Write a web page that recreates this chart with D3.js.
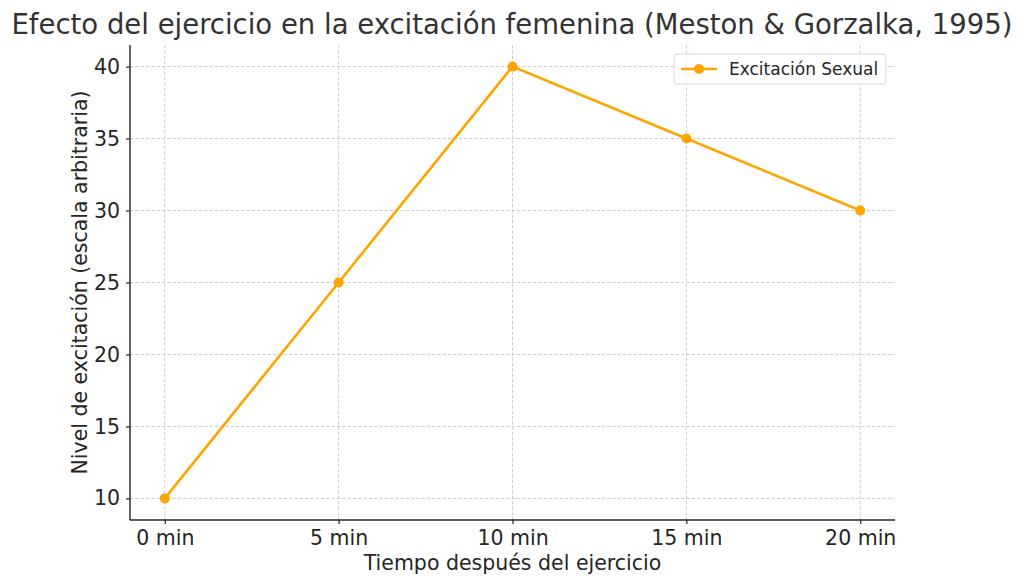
<!DOCTYPE html>
<html>
<head>
<meta charset="utf-8">
<script src="https://cdn.jsdelivr.net/npm/d3@7"></script>
<style>
  body { margin: 0; background: #fff; }
  svg { font-family: "DejaVu Sans", sans-serif; }
</style>
</head>
<body>
<div id="chart"></div>
<script>
// chart data
const categories = ["0 min", "5 min", "10 min", "15 min", "20 min"];
const arousal = [10, 25, 40, 35, 30];
const yTicks = [10, 15, 20, 25, 30, 35, 40];
const seriesName = "Excitación Sexual";

const width = 1024;
const height = 587;
const margin = { top: 45, right: 129, bottom: 67, left: 130 };

const svg = d3.select("#chart")
  .append("svg")
  .attr("width", width)
  .attr("height", height);

const xScale = d3.scaleLinear()
  .domain([-0.2, categories.length - 1 + 0.2])
  .range([margin.left, width - margin.right]);

const yScale = d3.scaleLinear()
  .domain([8.5, 41.5])
  .range([height - margin.bottom, margin.top]);

const textColor = "#262626";

// gridlines
const grid = svg.append("g").attr("class", "grid");
grid.selectAll("line.h")
  .data(yTicks)
  .join("line")
  .attr("class", "h")
  .attr("x1", margin.left)
  .attr("x2", width - margin.right)
  .attr("y1", d => yScale(d))
  .attr("y2", d => yScale(d));
grid.selectAll("line.v")
  .data(categories)
  .join("line")
  .attr("class", "v")
  .attr("x1", (d, i) => xScale(i))
  .attr("x2", (d, i) => xScale(i))
  .attr("y1", margin.top)
  .attr("y2", height - margin.bottom);
grid.selectAll("line")
  .attr("stroke", "#c8c8c8")
  .attr("stroke-width", 0.9)
  .attr("stroke-dasharray", "3.5,1.8");

// axes
const xAxis = svg.append("g")
  .attr("transform", `translate(0, ${height - margin.bottom})`)
  .call(d3.axisBottom(xScale)
    .tickValues(d3.range(categories.length))
    .tickFormat(i => categories[i])
    .tickSize(4)
    .tickPadding(6)
    .tickSizeOuter(0));

const yAxis = svg.append("g")
  .attr("transform", `translate(${margin.left}, 0)`)
  .call(d3.axisLeft(yScale)
    .tickValues(yTicks)
    .tickSize(4)
    .tickPadding(6)
    .tickSizeOuter(0));

[xAxis, yAxis].forEach(ax => {
  ax.select(".domain").attr("stroke", textColor).attr("stroke-width", 1.4);
  ax.selectAll(".tick line").attr("stroke", textColor).attr("stroke-width", 1.2);
  ax.selectAll(".tick text")
    .attr("fill", textColor)
    .style("font-size", "20.5px")
    .style("font-family", "DejaVu Sans, sans-serif");
});
xAxis.select(".domain").attr("d", `M${margin.left},0H${width - margin.right}`);
yAxis.select(".domain").attr("d", `M0,${height - margin.bottom}V${margin.top}`);

// line + markers
const line = d3.line()
  .x((d, i) => xScale(i))
  .y(d => yScale(d));

svg.append("path")
  .datum(arousal)
  .attr("fill", "none")
  .attr("stroke", "#FFA500")
  .attr("stroke-width", 2.6)
  .attr("d", line);

svg.append("g")
  .selectAll("circle")
  .data(arousal)
  .join("circle")
  .attr("cx", (d, i) => xScale(i))
  .attr("cy", d => yScale(d))
  .attr("r", 5)
  .attr("fill", "#FFA500");

// title and axis labels
svg.append("text")
  .attr("x", 512)
  .attr("y", 34)
  .attr("text-anchor", "middle")
  .attr("fill", "#333333")
  .style("font-size", "27.5px")
  .text("Efecto del ejercicio en la excitación femenina (Meston & Gorzalka, 1995)");

svg.append("text")
  .attr("x", (margin.left + width - margin.right) / 2)
  .attr("y", 570)
  .attr("text-anchor", "middle")
  .attr("fill", textColor)
  .style("font-size", "20.5px")
  .text("Tiempo después del ejercicio");

svg.append("text")
  .attr("transform", `translate(87, ${(margin.top + height - margin.bottom) / 2}) rotate(-90)`)
  .attr("text-anchor", "middle")
  .attr("fill", textColor)
  .style("font-size", "20.5px")
  .text("Nivel de excitación (escala arbitraria)");

// legend
const legend = svg.append("g").attr("transform", "translate(674, 54)");
legend.append("rect")
  .attr("width", 212)
  .attr("height", 30)
  .attr("rx", 3)
  .attr("fill", "#ffffff")
  .attr("fill-opacity", 0.8)
  .attr("stroke", "#d9d9d9");
legend.append("line")
  .attr("x1", 7).attr("x2", 43)
  .attr("y1", 15).attr("y2", 15)
  .attr("stroke", "#FFA500")
  .attr("stroke-width", 2.6);
legend.append("circle")
  .attr("cx", 25).attr("cy", 15).attr("r", 5)
  .attr("fill", "#FFA500");
legend.append("text")
  .attr("x", 55).attr("y", 21)
  .attr("fill", textColor)
  .style("font-size", "17px")
  .text(seriesName);
</script>
</body>
</html>
